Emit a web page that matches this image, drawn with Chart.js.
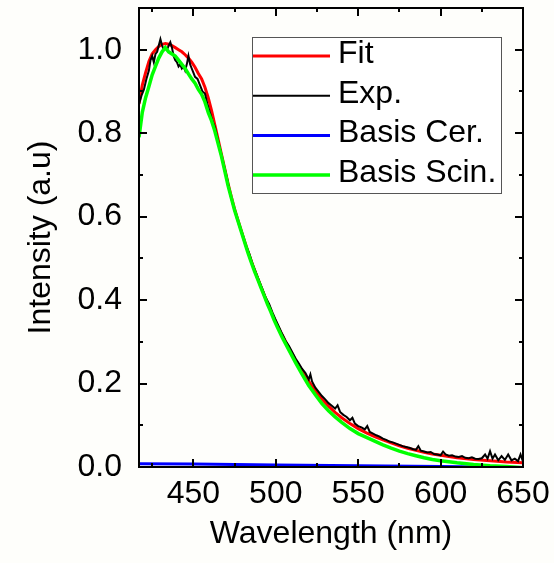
<!DOCTYPE html>
<html>
<head>
<meta charset="utf-8">
<script src="https://cdn.jsdelivr.net/npm/chart.js@4.4.1/dist/chart.umd.min.js"></script>
<style>
  html, body { margin: 0; padding: 0; background: #fefefb; }
  #wrap { width: 554px; height: 563px; }
</style>
</head>
<body>
<div id="wrap"><canvas id="spec"></canvas></div>
<script>
// tick labels
const xTicks = [450, 500, 550, 600, 650];
const yTicks = [0.0, 0.2, 0.4, 0.6, 0.8, 1.0];

// Fit
const fitWl = [417, 419, 421, 423, 425, 427, 429, 431, 433, 435, 437, 439, 441, 443, 445, 447, 449, 451, 453, 455, 457, 459, 461, 463, 465, 467, 469, 471, 473, 475, 477, 479, 481, 483, 485, 487, 489, 491, 493, 495, 497, 499, 501, 504, 508, 512, 516, 520, 524, 528, 532, 536, 540, 545, 550, 555, 560, 565, 570, 575, 580, 585, 590, 595, 600, 610, 620, 630, 640, 650];
const fitVal = [0.87, 0.915, 0.945, 0.972, 0.99, 1.0, 1.008, 1.013, 1.015, 1.013, 1.01, 1.005, 1.0, 0.995, 0.988, 0.98, 0.97, 0.958, 0.943, 0.93, 0.91, 0.885, 0.855, 0.82, 0.785, 0.75, 0.715, 0.68, 0.648, 0.618, 0.592, 0.567, 0.542, 0.518, 0.495, 0.473, 0.452, 0.432, 0.412, 0.393, 0.375, 0.356, 0.339, 0.315, 0.285, 0.256, 0.23, 0.205, 0.183, 0.163, 0.146, 0.131, 0.118, 0.104, 0.092, 0.082, 0.073, 0.065, 0.058, 0.051, 0.045, 0.04, 0.035, 0.031, 0.028, 0.022, 0.018, 0.015, 0.012, 0.01];

// Exp.
const expWl = [417, 418.5, 420, 421.5, 423, 424, 425, 426, 427, 428, 429, 430, 431, 432, 433, 434, 435, 436, 437, 438, 439, 440, 441, 442, 443, 444, 445, 446, 447, 448, 449, 450, 451, 452.5, 454, 455.5, 457, 458.5, 460, 461.5, 463, 464.5, 466, 467.5, 469, 470.5, 472, 474, 476, 478, 480, 482, 484, 486, 488, 490, 492, 494, 496, 498, 500, 502, 504, 506, 508, 510, 512, 514, 516, 518, 520, 521, 522, 524, 526, 528, 530, 532, 534, 536, 537.5, 539, 541, 543, 545, 546.5, 548, 550, 552, 554, 555.5, 557, 559, 561, 563, 565, 567, 569, 571, 573, 575, 577, 579, 581, 583, 585, 586.5, 588, 590, 592, 594, 596, 598, 600, 601.5, 603, 605, 607, 609, 611, 613, 615, 617, 619, 621, 623, 625, 627, 628.5, 630, 631.5, 633, 635, 637, 639, 641, 643, 645, 647, 648.5, 650];
const expVal = [0.87, 0.89, 0.905, 0.93, 0.95, 0.975, 0.985, 0.97, 0.99, 0.995, 1.01, 1.025, 1.01, 1.0, 1.005, 1.0, 1.01, 1.018, 1.005, 0.985, 0.975, 0.97, 0.96, 0.965, 0.955, 0.96, 0.95, 0.965, 0.985, 0.965, 0.955, 0.945, 0.935, 0.93, 0.915, 0.9, 0.895, 0.87, 0.85, 0.83, 0.815, 0.79, 0.765, 0.74, 0.715, 0.69, 0.66, 0.63, 0.605, 0.58, 0.555, 0.53, 0.51, 0.485, 0.465, 0.445, 0.425, 0.405, 0.39, 0.37, 0.352, 0.335, 0.318, 0.302, 0.29, 0.275, 0.26, 0.248, 0.235, 0.225, 0.21, 0.222, 0.205, 0.19, 0.18, 0.17, 0.162, 0.153, 0.147, 0.14, 0.148, 0.132, 0.125, 0.12, 0.112, 0.118, 0.104, 0.098, 0.095, 0.09, 0.098, 0.084, 0.08, 0.076, 0.073, 0.068, 0.065, 0.061, 0.059, 0.056, 0.053, 0.05, 0.048, 0.046, 0.043, 0.041, 0.05, 0.039, 0.037, 0.035, 0.036, 0.031, 0.03, 0.028, 0.037, 0.03, 0.027, 0.028, 0.025, 0.024, 0.026, 0.022, 0.021, 0.023, 0.02, 0.019, 0.021, 0.03, 0.02, 0.038, 0.02, 0.03, 0.016, 0.026, 0.017, 0.03, 0.016, 0.02, 0.014, 0.03, 0.013];

// Basis Cer.
const cerWl = [417, 450, 500, 550, 600, 650];
const cerVal = [0.008, 0.007, 0.005, 0.003, 0.001, -0.001];

// Basis Scin.
const scinWl = [417, 419, 421, 423, 425, 427, 429, 431, 433, 435, 437, 439, 441, 443, 445, 447, 449, 451, 453, 455, 457, 459, 461, 463, 465, 467, 469, 471, 473, 475, 477, 479, 481, 483, 485, 487, 489, 491, 493, 495, 497, 499, 501, 504, 508, 512, 516, 520, 524, 528, 532, 536, 540, 545, 550, 555, 560, 565, 570, 575, 580, 585, 590, 595, 600, 610, 620, 630, 640, 650];
const scinVal = [0.79, 0.85, 0.885, 0.912, 0.94, 0.96, 0.98, 0.995, 1.005, 0.995, 0.99, 0.985, 0.975, 0.965, 0.955, 0.942, 0.93, 0.92, 0.905, 0.893, 0.875, 0.85, 0.83, 0.805, 0.775, 0.745, 0.71, 0.675, 0.645, 0.615, 0.59, 0.565, 0.54, 0.515, 0.492, 0.47, 0.45, 0.43, 0.41, 0.39, 0.372, 0.352, 0.335, 0.31, 0.28, 0.25, 0.222, 0.195, 0.173, 0.152, 0.135, 0.12, 0.107, 0.092, 0.08, 0.071, 0.062, 0.053, 0.045, 0.038, 0.032, 0.027, 0.022, 0.018, 0.015, 0.01, 0.006, 0.003, 0.001, -0.002];

const FONT = "'Liberation Sans', Arial, sans-serif";

function pts(xs, ys) {
    return xs.map((x, i) => ({ x: x, y: ys[i] }));
}

// frame + inward ticks on all four sides
const framePlugin = {
    id: 'frame',
    afterDatasetsDraw(chart) {
        const ctx = chart.ctx;
        const a = chart.chartArea;
        const xs = chart.scales.x;
        const ys = chart.scales.y;
        ctx.save();
        ctx.strokeStyle = '#000';
        ctx.lineWidth = 2;
        ctx.strokeRect(a.left, a.top, a.right - a.left, a.bottom - a.top);
        ctx.beginPath();
        for (let v = 425; v <= 650; v += 25) {
            const px = Math.round(xs.getPixelForValue(v));
            const len = (v % 50 === 0) ? 8 : 4;
            ctx.moveTo(px, a.bottom); ctx.lineTo(px, a.bottom - len);
            ctx.moveTo(px, a.top); ctx.lineTo(px, a.top + len);
        }
        for (let i = 0; i <= 10; i++) {
            const v = i / 10;
            const py = Math.round(ys.getPixelForValue(v));
            const len = (i % 2 === 0) ? 8 : 4;
            ctx.moveTo(a.left, py); ctx.lineTo(a.left + len, py);
            ctx.moveTo(a.right, py); ctx.lineTo(a.right - len, py);
        }
        ctx.stroke();
        ctx.restore();
    }
};

// legend box inside the plot
const boxLegend = {
    id: 'boxLegend',
    afterDraw(chart) {
        const ctx = chart.ctx;
        const a = chart.chartArea;
        const bx = a.left + 113, by = a.top + 29, bw = 249, bh = 156;
        ctx.save();
        ctx.fillStyle = '#ffffff';
        ctx.fillRect(bx, by, bw, bh);
        ctx.strokeStyle = '#555';
        ctx.lineWidth = 1;
        ctx.strokeRect(bx + 0.5, by + 0.5, bw, bh);
        ctx.font = '32px ' + FONT;
        ctx.textBaseline = 'middle';
        ctx.fillStyle = '#000';
        chart.data.datasets.forEach((ds, i) => {
            const cy = by + 19 + i * 39.7;
            ctx.strokeStyle = ds.borderColor;
            ctx.lineWidth = ds.borderWidth;
            ctx.beginPath();
            ctx.moveTo(bx + 1, cy);
            ctx.lineTo(bx + 78, cy);
            ctx.stroke();
            ctx.fillText(ds.label, bx + 86, cy - 2);
        });
        ctx.restore();
    }
};

new Chart(document.getElementById('spec'), {
    type: 'line',
    data: {
        datasets: [
            { label: 'Fit', data: pts(fitWl, fitVal), borderColor: '#ff0000', borderWidth: 3, order: 3 },
            { label: 'Exp.', data: pts(expWl, expVal), borderColor: '#000000', borderWidth: 2, order: 2 },
            { label: 'Basis Cer.', data: pts(cerWl, cerVal), borderColor: '#0000ff', borderWidth: 3, order: 1 },
            { label: 'Basis Scin.', data: pts(scinWl, scinVal), borderColor: '#00ff00', borderWidth: 3.5, order: 0 }
        ]
    },
    options: {
        responsive: true,
        maintainAspectRatio: false,
        animation: false,
        elements: { point: { radius: 0 }, line: { tension: 0 } },
        layout: { padding: { top: 8, right: 31, left: 0, bottom: 0 } },
        plugins: {
            legend: { display: false },
            tooltip: { enabled: false }
        },
        scales: {
            x: {
                type: 'linear',
                min: 417,
                max: 650,
                grid: { display: false },
                border: { display: false },
                afterBuildTicks: s => { s.ticks = xTicks.map(v => ({ value: v })); },
                afterFit: s => { s.height = 96; s.paddingLeft = 0; s.paddingRight = 0; },
                ticks: { color: '#000', font: { size: 32, family: FONT }, padding: 0, maxRotation: 0 },
                title: { display: true, text: 'Wavelength (nm)', color: '#000', font: { size: 32, family: FONT }, padding: { top: 0, bottom: 10 } }
            },
            y: {
                min: 0,
                max: 1.1,
                grid: { display: false },
                border: { display: false },
                afterBuildTicks: s => { s.ticks = yTicks.map(v => ({ value: v })); },
                afterFit: s => { s.width = 139; s.paddingTop = 0; s.paddingBottom = 0; },
                ticks: { color: '#000', font: { size: 32, family: FONT }, padding: 9, callback: v => v.toFixed(1) },
                title: { display: true, text: 'Intensity (a.u)', color: '#000', font: { size: 32, family: FONT }, padding: { top: 22, bottom: 0 } }
            }
        }
    },
    plugins: [framePlugin, boxLegend]
});
</script>
</body>
</html>
